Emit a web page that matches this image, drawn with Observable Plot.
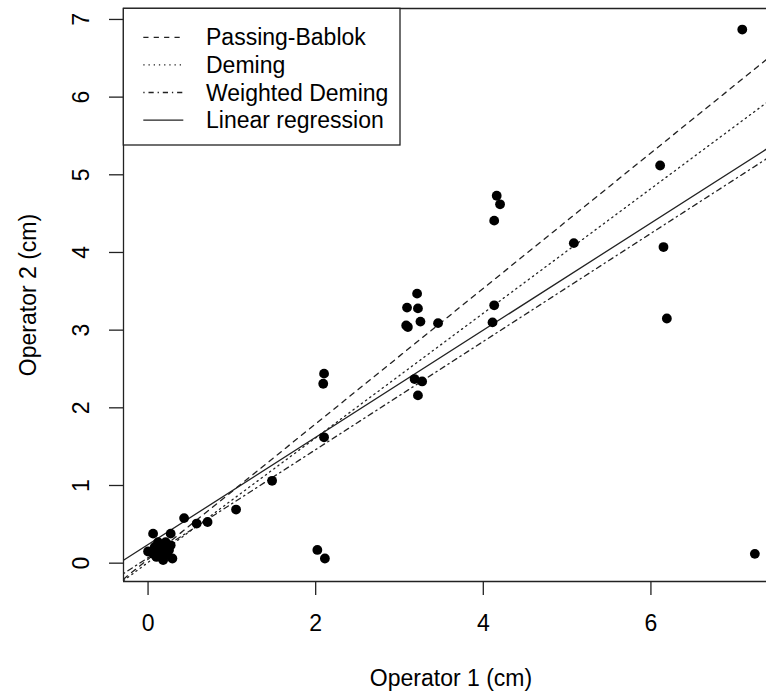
<!DOCTYPE html>
<html>
<head>
<meta charset="utf-8">
<script src="https://cdn.jsdelivr.net/npm/d3@7"></script>
<script src="https://cdn.jsdelivr.net/npm/@observablehq/plot@0.6"></script>
<style>
  html, body { margin: 0; padding: 0; background: white; overflow: hidden; }
  #chart { position: relative; width: 766px; height: 691px; }
</style>
</head>
<body>
<div id="chart"></div>
<script>
// ---- data ----
const operator1 = [
  0.06, 0.27, 0.12, 0.21, 0.08, 0.19, 0.27, 0.00, 0.14, 0.21, 0.06, 0.18, 0.29, 0.10, 0.25,
  0.43, 0.58, 0.71, 1.05, 1.48,
  2.02, 2.11, 2.10, 2.09, 2.10,
  3.09, 3.22, 3.21, 3.25, 3.10, 3.08, 3.46,
  3.18, 3.27, 3.22,
  4.13, 4.11, 4.16, 4.20, 4.13,
  5.08, 6.11, 6.15, 6.19, 7.09, 7.24
];
const operator2 = [
  0.38, 0.38, 0.27, 0.27, 0.21, 0.21, 0.23, 0.15, 0.15, 0.10, 0.12, 0.04, 0.06, 0.08, 0.17,
  0.58, 0.51, 0.53, 0.69, 1.06,
  0.17, 0.06, 1.62, 2.31, 2.44,
  3.29, 3.28, 3.47, 3.11, 3.04, 3.06, 3.09,
  2.37, 2.34, 2.16,
  3.32, 3.10, 4.73, 4.62, 4.41,
  4.12, 5.12, 4.07, 3.15, 6.87, 0.12
];
const methods = ["Passing-Bablok", "Deming", "Weighted Deming", "Linear regression"];
const intercepts = [0.05, 0.01, 0.07, 0.24];
const slopes = [0.872, 0.802, 0.696, 0.69];
const xTicks = [0, 2, 4, 6];
const yTicks = [0, 1, 2, 3, 4, 5, 6, 7];
const xTitle = "Operator 1 (cm)";
const yTitle = "Operator 2 (cm)";

// ---- styles ----
const dashPatterns = ["5.2,5.2", "1.3,3.9", "1.3,3.9,5.2,3.9", null];
const FONT = "'Liberation Sans', Arial, Helvetica, sans-serif";
const xDomain = [-0.293, 7.379];
const yDomain = [-0.236, 7.141];
const ink = "#222";

const points = operator1.map((x, i) => ({x, y: operator2[i]}));
const lineData = methods.map((m, i) =>
  xDomain.map(x => ({method: m, x, y: intercepts[i] + slopes[i] * x})));

const marks = [];
lineData.forEach((d, i) => {
  marks.push(Plot.line(d, {
    x: "x", y: "y", stroke: ink, strokeWidth: 1.3,
    strokeDasharray: dashPatterns[i] ?? undefined, clip: true
  }));
});
marks.push(Plot.dot(points, {x: "x", y: "y", r: 4.9, fill: "black", stroke: null}));
// frame (right edge is outside the visible window)
marks.push(Plot.ruleY([yDomain[0], yDomain[1]], {stroke: ink, strokeWidth: 1.3}));
marks.push(Plot.ruleX([xDomain[0]], {stroke: ink, strokeWidth: 1.3}));
// ticks
marks.push(Plot.axisX({ticks: xTicks, tickSize: 14, tickFormat: () => "", label: null, stroke: ink, strokeWidth: 1.3}));
marks.push(Plot.axisY({ticks: yTicks, tickSize: 14, tickFormat: () => "", label: null, stroke: ink, strokeWidth: 1.3}));
// tick labels
marks.push(Plot.text(xTicks, {x: d => d, text: d => String(d), frameAnchor: "bottom", dy: 42,
  lineAnchor: "middle", textAnchor: "middle", fontSize: 23, fill: "black"}));
marks.push(Plot.text(yTicks, {y: d => d, text: d => String(d), frameAnchor: "left", dx: -41.7,
  rotate: -90, lineAnchor: "middle", textAnchor: "middle", fontSize: 23, fill: "black"}));
// axis titles
marks.push(Plot.text([xTitle], {text: d => d, frameAnchor: "bottom", dy: 97, dx: 6,
  lineAnchor: "middle", textAnchor: "middle", fontSize: 23, fill: "black"}));
marks.push(Plot.text([yTitle], {text: d => d, frameAnchor: "left", dx: -94.5, rotate: -90,
  lineAnchor: "middle", textAnchor: "middle", fontSize: 23, fill: "black"}));

const chart = Plot.plot({
  width: 766,
  height: 691,
  marginLeft: 123,
  marginRight: 0,
  marginTop: 8,
  marginBottom: 110,
  x: {domain: xDomain, axis: null},
  y: {domain: yDomain, axis: null},
  style: {fontFamily: FONT, fontSize: "23px", background: "white", color: "black", overflow: "visible"},
  marks
});

// ---- legend (inside the plot, top-left) ----
const svg = d3.select(chart);
const lg = svg.append("g")
  .attr("font-family", FONT).attr("font-size", 23).attr("text-anchor", "start");
lg.append("rect")
  .attr("x", 123.3).attr("y", 8.3).attr("width", 276.7).attr("height", 136.7)
  .attr("fill", "white").attr("stroke", ink).attr("stroke-width", 1.3);
methods.forEach((m, i) => {
  const cy = 37.3 + i * 27.6;
  const ln = lg.append("line")
    .attr("x1", 143.3).attr("x2", 183.3).attr("y1", cy).attr("y2", cy)
    .attr("stroke", ink).attr("stroke-width", 1.3);
  if (dashPatterns[i]) ln.attr("stroke-dasharray", dashPatterns[i]);
  lg.append("text")
    .attr("x", 206).attr("y", cy).attr("dy", "0.35em")
    .attr("text-anchor", "start")
    .attr("fill", "black").text(m);
});

document.getElementById("chart").appendChild(chart);
</script>
</body>
</html>
